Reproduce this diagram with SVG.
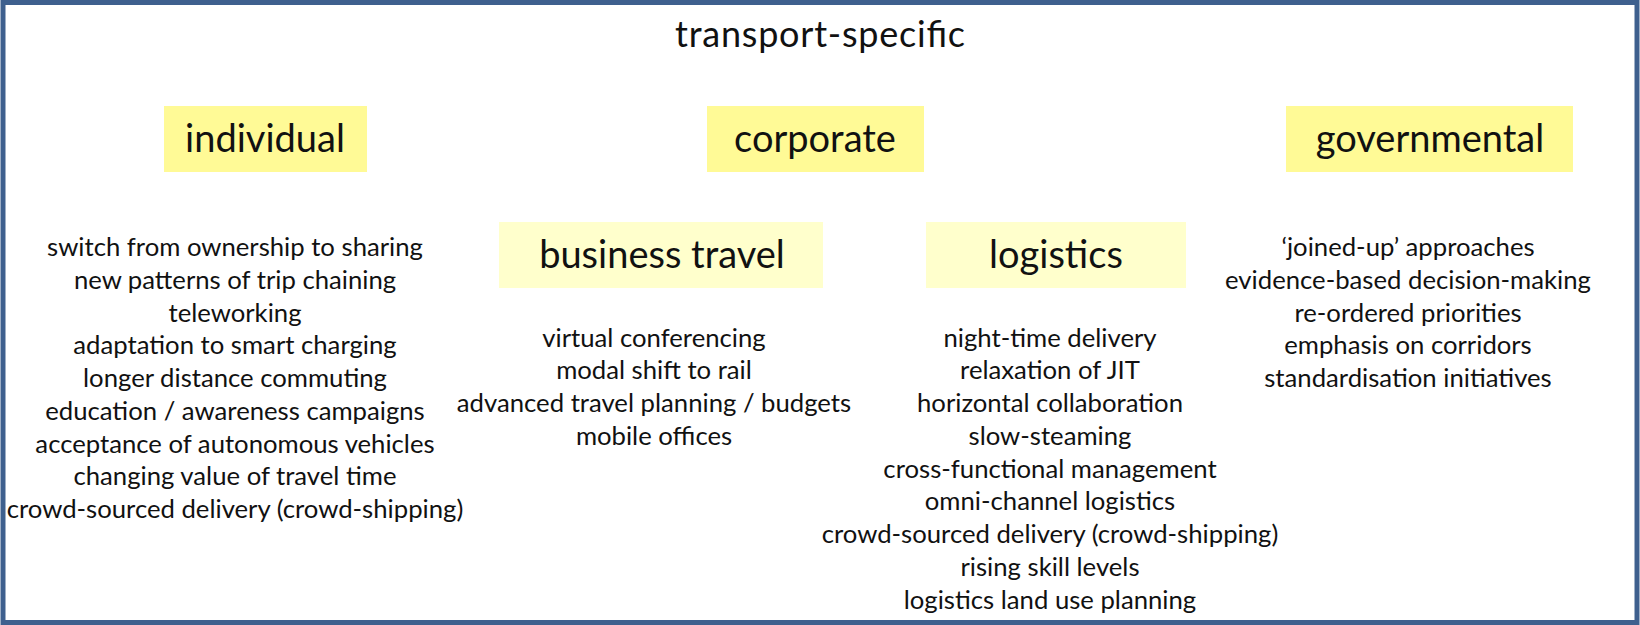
<svg xmlns="http://www.w3.org/2000/svg" width="1640" height="625" viewBox="0 0 1640 625">
<style>
text{font-family:Lato,"Liberation Sans",sans-serif;fill:#111;text-anchor:middle}
.t{font-size:36px}
.h{font-size:38px}
.l{font-size:25.7px}
.b1{fill:#FFFA96}
.b2{fill:#FFFFCC}
</style>
<rect width="1640" height="625" fill="#fff"/>
<rect x="3" y="2.5" width="1634" height="620" fill="none" stroke="#3E608E" stroke-width="5"/>
<g id="title"><text class="t" x="820" y="47" textLength="290" lengthAdjust="spacing">transport-specific</text></g>
<g id="individual">
<rect class="b1" x="164" y="106" width="203" height="66"/>
<text class="h" x="265" y="152">individual</text>
</g>
<g id="corporate">
<rect class="b1" x="707" y="106" width="217" height="66"/>
<text class="h" x="815" y="152">corporate</text>
</g>
<g id="governmental">
<rect class="b1" x="1286" y="106" width="287" height="66"/>
<text class="h" x="1430" y="152">governmental</text>
</g>
<g id="business-travel">
<rect class="b2" x="499" y="222" width="324" height="66"/>
<text class="h" x="662" y="268">business travel</text>
</g>
<g id="logistics">
<rect class="b2" x="926" y="222" width="260" height="66"/>
<text class="h" x="1056" y="268">logistics</text>
</g>
<g id="individual-list" class="l">
<text x="235" y="256">switch from ownership to sharing</text>
<text x="235" y="288.7">new patterns of trip chaining</text>
<text x="235" y="321.5">teleworking</text>
<text x="235" y="354.2">adaptation to smart charging</text>
<text x="235" y="387">longer distance commuting</text>
<text x="235" y="419.7">education / awareness campaigns</text>
<text x="235" y="452.5">acceptance of autonomous vehicles</text>
<text x="235" y="485.2">changing value of travel time</text>
<text x="235" y="518">crowd-sourced delivery (crowd-shipping)</text>
</g>
<g id="business-travel-list" class="l">
<text x="654" y="346.5">virtual conferencing</text>
<text x="654" y="379.2">modal shift to rail</text>
<text x="654" y="412">advanced travel planning / budgets</text>
<text x="654" y="444.7">mobile offices</text>
</g>
<g id="logistics-list" class="l">
<text x="1050" y="346.5">night-time delivery</text>
<text x="1050" y="379.2">relaxation of JIT</text>
<text x="1050" y="412">horizontal collaboration</text>
<text x="1050" y="444.7">slow-steaming</text>
<text x="1050" y="477.5">cross-functional management</text>
<text x="1050" y="510.2">omni-channel logistics</text>
<text x="1050" y="543">crowd-sourced delivery (crowd-shipping)</text>
<text x="1050" y="575.7">rising skill levels</text>
<text x="1050" y="608.5">logistics land use planning</text>
</g>
<g id="governmental-list" class="l">
<text x="1408" y="256">‘joined-up’ approaches</text>
<text x="1408" y="288.7">evidence-based decision-making</text>
<text x="1408" y="321.5">re-ordered priorities</text>
<text x="1408" y="354.2">emphasis on corridors</text>
<text x="1408" y="387">standardisation initiatives</text>
</g>
<g id="connectors"/>
</svg>
